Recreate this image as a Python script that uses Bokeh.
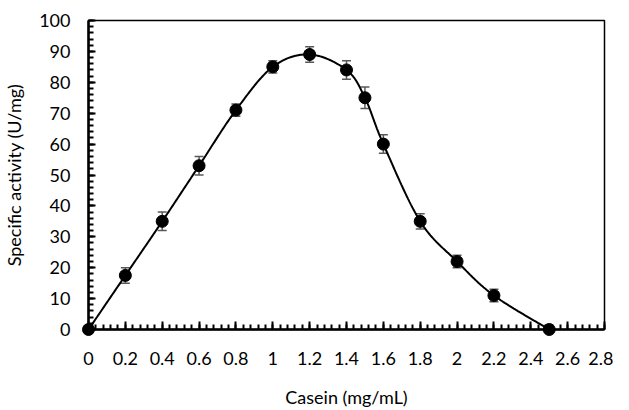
import numpy as np
from bokeh.plotting import figure
from bokeh.models import ColumnDataSource, Whisker, TeeHead, Range1d, FixedTicker
from bokeh.embed import file_html
from bokeh.resources import INLINE

casein = [0, 0.2, 0.4, 0.6, 0.8, 1.0, 1.2, 1.4, 1.5, 1.6, 1.8, 2.0, 2.2, 2.5]
activity = [0, 17.5, 35, 53, 71, 85, 89, 84, 75, 60, 35, 22, 11, 0]
error = [0, 2.5, 3, 3, 2, 2, 2.5, 3, 3.5, 3, 2.5, 2, 2, 0]
x_ticks = [0, 0.2, 0.4, 0.6, 0.8, 1.0, 1.2, 1.4, 1.6, 1.8, 2.0, 2.2, 2.4, 2.6, 2.8]
y_ticks = [0, 10, 20, 30, 40, 50, 60, 70, 80, 90, 100]
x_minor = [round(i * 0.04, 2) for i in range(71)]
y_minor = list(range(0, 101, 2))
x_title = "Casein (mg/mL)"
y_title = "Specific activity (U/mg)"

FONT = "Lato"

def smooth(xs, ys, n=30):
    xs = np.asarray(xs, float); ys = np.asarray(ys, float)
    px = np.concatenate([[xs[0]], xs, [xs[-1]]])
    py = np.concatenate([[ys[0]], ys, [ys[-1]]])
    out_x, out_y = [], []
    t = np.linspace(0, 1, n)
    for i in range(1, len(px) - 2):
        p0 = np.array([px[i], py[i]]); p3 = np.array([px[i + 1], py[i + 1]])
        c1 = p0 + (np.array([px[i + 1], py[i + 1]]) - np.array([px[i - 1], py[i - 1]])) / 6
        c2 = p3 - (np.array([px[i + 2], py[i + 2]]) - np.array([px[i], py[i]])) / 6
        bx = (1 - t) ** 3 * p0[0] + 3 * (1 - t) ** 2 * t * c1[0] + 3 * (1 - t) * t ** 2 * c2[0] + t ** 3 * p3[0]
        by = (1 - t) ** 3 * p0[1] + 3 * (1 - t) ** 2 * t * c1[1] + 3 * (1 - t) * t ** 2 * c2[1] + t ** 3 * p3[1]
        out_x.extend(bx.tolist()); out_y.extend(by.tolist())
    return out_x, out_y

sx, sy = smooth(casein, activity)

p = figure(width=613, height=410, output_backend="svg", toolbar_location=None,
           x_range=Range1d(0, 2.8), y_range=Range1d(0, 100),
           min_border_left=82, min_border_right=9, min_border_top=20, min_border_bottom=80)
p.background_fill_color = "white"
p.border_fill_color = "white"
p.outline_line_color = "black"
p.outline_line_width = 1.5
p.grid.visible = False

src = ColumnDataSource(dict(x=casein, y=activity,
                            upper=[a + e for a, e in zip(activity, error)],
                            lower=[a - e for a, e in zip(activity, error)]))

p.line(sx, sy, line_color="black", line_width=2)
wh = Whisker(source=src, base="x", upper="upper", lower="lower",
             line_color="#595959", line_width=1.5,
             upper_head=TeeHead(size=9, line_color="#595959", line_width=1.5),
             lower_head=TeeHead(size=9, line_color="#595959", line_width=1.5))
p.add_layout(wh)
p.scatter("x", "y", source=src, size=12, color="black", level="overlay")

for ax in (p.xaxis[0], p.yaxis[0]):
    ax.axis_line_color = "black"
    ax.axis_line_width = 2.5
    ax.major_tick_line_color = "black"
    ax.minor_tick_line_color = "black"
    ax.major_tick_line_width = 2
    ax.minor_tick_line_width = 2
    ax.major_tick_out = 0
    ax.minor_tick_out = 0
    ax.major_label_text_font = FONT
    ax.major_label_text_font_size = "18px"
    ax.major_label_text_color = "black"
    ax.axis_label_text_font = FONT
    ax.axis_label_text_font_size = "18px"
    ax.axis_label_text_font_style = "normal"
    ax.axis_label_text_color = "black"

p.xaxis[0].major_label_text_line_height = 1.0
p.xaxis[0].axis_label_text_line_height = 1.0
p.xaxis[0].major_tick_in = 8
p.xaxis[0].minor_tick_in = 5
p.yaxis[0].major_tick_in = 7
p.yaxis[0].minor_tick_in = 5

p.xaxis[0].ticker = FixedTicker(ticks=x_ticks, minor_ticks=x_minor)
p.yaxis[0].ticker = FixedTicker(ticks=y_ticks, minor_ticks=y_minor)
p.xaxis[0].major_label_overrides = {t: ("%g" % t) for t in x_ticks}
p.xaxis[0].major_label_standoff = 22
p.yaxis[0].major_label_standoff = 18
p.xaxis[0].axis_label = x_title
p.yaxis[0].axis_label = y_title
p.xaxis[0].axis_label_standoff = 18
p.yaxis[0].axis_label_standoff = 11

open("out.html", "w").write(file_html(p, INLINE))
